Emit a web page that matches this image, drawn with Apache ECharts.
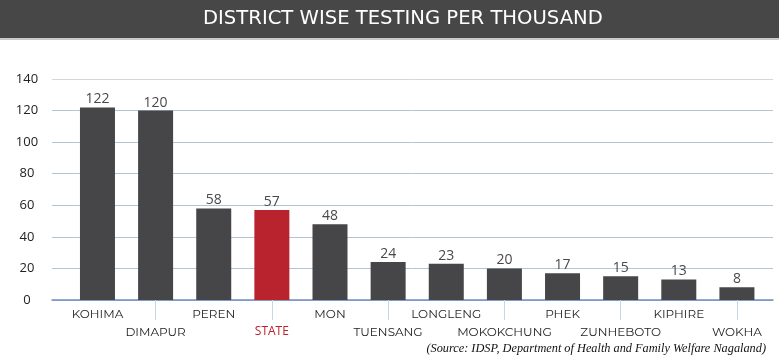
<!DOCTYPE html>
<html>
<head>
<meta charset="utf-8">
<script src="https://cdn.jsdelivr.net/npm/echarts@6/dist/echarts.min.js"></script>
<style>
html,body{margin:0;padding:0;background:#fff;}
#chart{width:779px;height:362px;}
</style>
</head>
<body>
<div id="chart"></div>
<script>
const categories = ['KOHIMA','DIMAPUR','PEREN','STATE','MON','TUENSANG','LONGLENG','MOKOKCHUNG','PHEK','ZUNHEBOTO','KIPHIRE','WOKHA'];
const values = [122,120,58,57,48,24,23,20,17,15,13,8];
const highlight = 'STATE';
const yTicks = [0,20,40,60,80,100,120,140];
const titleText = 'DISTRICT WISE TESTING PER THOUSAND';
const sourceText = '(Source: IDSP, Department of Health and Family Welfare Nagaland)';

const chart = echarts.init(document.getElementById('chart'), null, {renderer:'canvas'});
const barData = values.map((v,i)=>({
  value: v,
  itemStyle: {color: categories[i]===highlight ? '#b8232d' : '#464648'}
}));
const splitColors = yTicks.map((t,i)=> i===yTicks.length-1 ? '#d3d7db' : '#b3c4d4');

chart.setOption({
  animation:false,
  graphic:[
    {type:'rect', left:0, top:0, shape:{width:779, height:38}, style:{fill:'#474748'}, z:0},
    {type:'rect', left:0, top:38, shape:{width:779, height:2}, style:{fill:'#c9c9c9'}, z:0},
    {type:'text', left:203, top:9, style:{text:titleText, fill:'#ffffff', font:'19.6px "DejaVu Sans", sans-serif'}, z:1},
    {type:'text', right:13, top:343, style:{text:sourceText, fill:'#111', font:'italic 12.3px "Liberation Serif", serif'}, z:1}
  ],
  grid:[
    {left:52, right:6, top:79, bottom:62},
    {left:68.4, right:13, top:79, bottom:62}
  ],
  xAxis:[
    {type:'value', gridIndex:0, min:0, max:1, axisLine:{show:true, onZero:false, lineStyle:{color:'#6e8fc2', width:1.5}}, axisTick:{show:false}, axisLabel:{show:false}, splitLine:{show:false}},
    {type:'category', gridIndex:1, data:categories,
      axisLine:{show:false},
      axisTick:{show:true, alignWithLabel:true, length:20, interval:(i)=> i%2===1, lineStyle:{color:'#c8d5e4'}},
      axisLabel:{interval:0, margin:5, color:'#222', fontFamily:'Montserrat, "Open Sans", sans-serif', fontSize:12, lineHeight:18,
        formatter:(v,i)=>{ const s = v===highlight ? '{r|'+v+'}' : v; return i%2===1 ? '\n'+s : s; },
        rich:{r:{color:'#b8232d', fontFamily:'"Open Sans", sans-serif', fontSize:12, lineHeight:18}}
      }
    }
  ],
  yAxis:[
    {type:'value', gridIndex:0, min:0, max:140, interval:20,
      axisLine:{show:false}, axisTick:{show:false},
      axisLabel:{align:'center', margin:25, color:'#222', fontSize:13, fontFamily:'"Open Sans", sans-serif'},
      splitLine:{show:true, lineStyle:{color:splitColors, width:1}}
    },
    {type:'value', gridIndex:1, min:0, max:140, interval:20, show:false, splitLine:{show:false}}
  ],
  series:[
    {type:'bar', xAxisIndex:1, yAxisIndex:1, data:barData, barWidth:35,
      label:{show:true, position:'top', distance:1, color:'#4a4a4a', fontSize:14, fontFamily:'"Open Sans", sans-serif'}
    }
  ]
});
</script>
</body>
</html>
